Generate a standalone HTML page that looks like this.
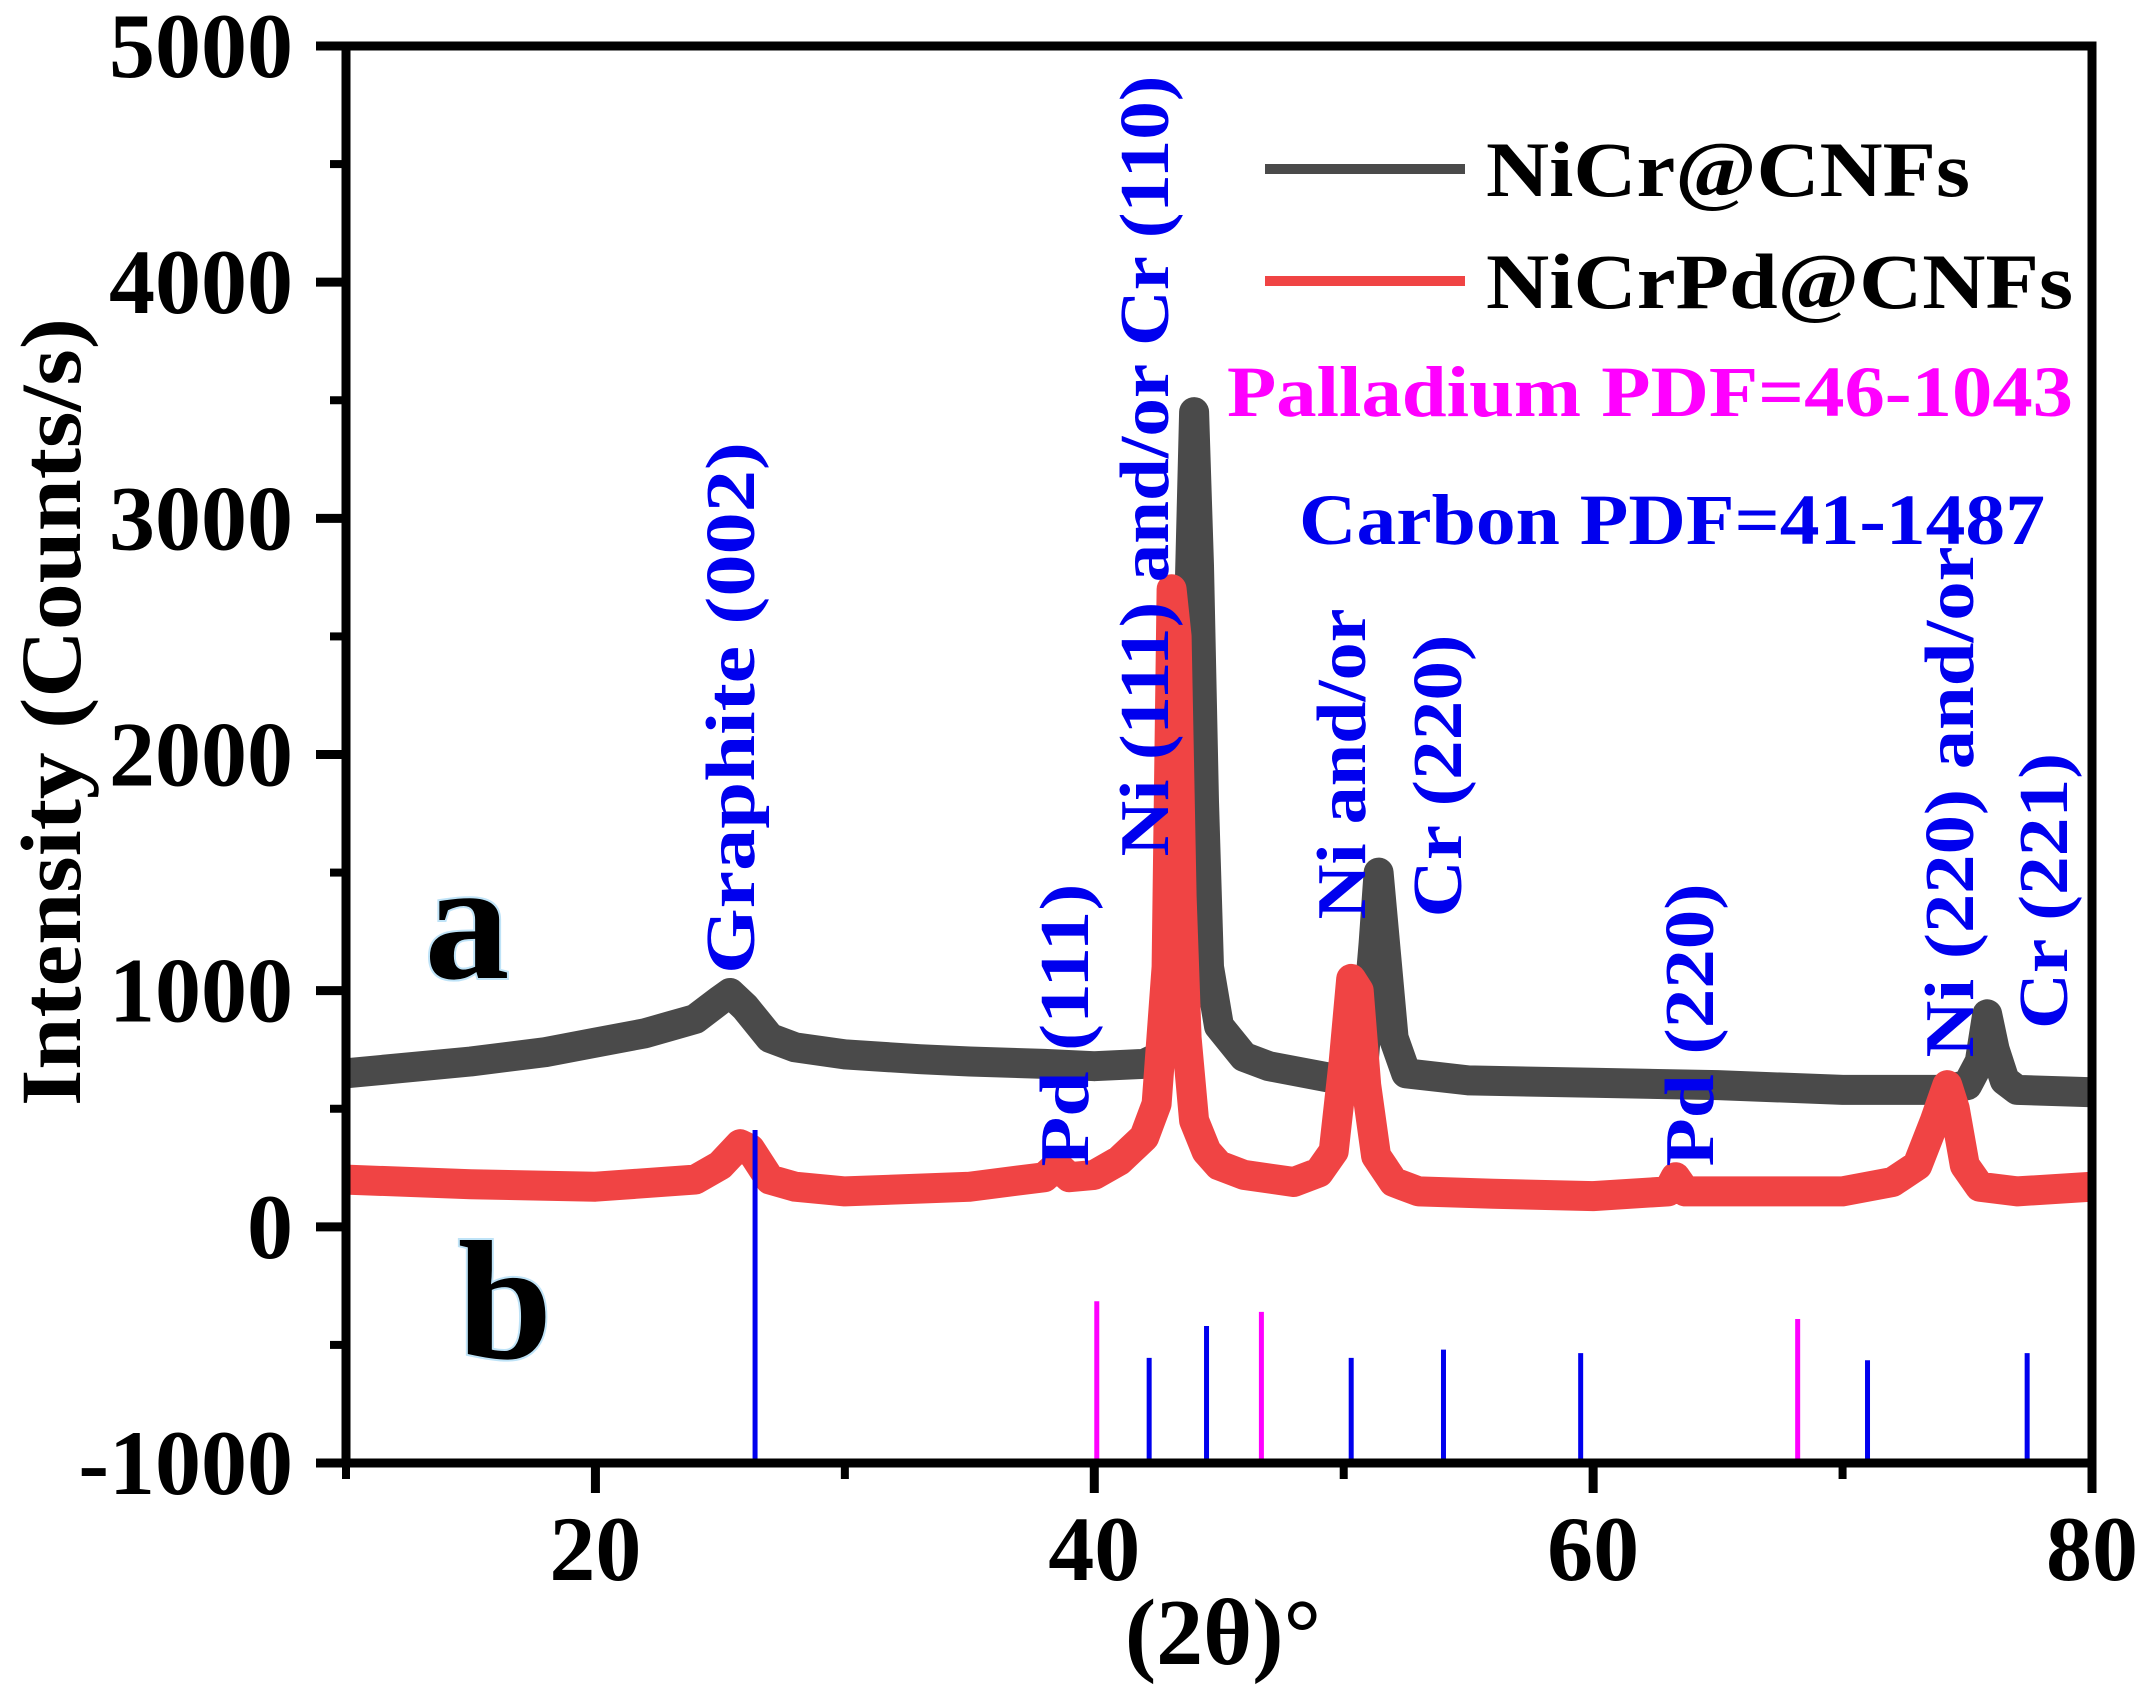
<!DOCTYPE html>
<html><head><meta charset="utf-8"><style>
html,body{margin:0;padding:0;background:#fff;}
svg{display:block;font-family:"Liberation Serif",serif;font-weight:bold;}
</style></head><body>
<svg id="chart" width="2155" height="1689" viewBox="0 0 2155 1689">
<g id="plot"></g>
</svg>
<script>
const xTicks=[20,40,60,80];
const xMinor=[10,30,50,70];
const yTicks=[-1000,0,1000,2000,3000,4000,5000];
const yMinor=[-500,500,1500,2500,3500,4500];
const nicrX=[10,12,15,18,20,22,23,24,25,25.4,26,27,28,30,33,35,38,40,42,43,43.5,43.8,44.0,44.2,44.4,44.6,45,46,47,50,50.8,51.2,51.4,51.7,52,52.5,55,60,65,70,74,75,75.5,75.8,76.1,76.5,77,80];
const nicrY=[650,670,700,740,780,820,850,880,960,990,930,800,760,730,710,700,690,680,690,740,1200,2600,3450,2800,1800,1100,850,720,680,620,700,1200,1500,1150,800,650,620,610,600,580,580,600,700,900,750,620,580,570];
const pdX=[10,15,20,24,25,25.8,26.2,27,28,30,35,38,38.5,39,40,41,42,42.5,42.9,43.1,43.3,43.5,43.7,44,44.5,45,46,48,49,49.6,50,50.3,50.6,50.9,51.3,52,53,56,60,63,63.3,63.7,66,70,72,73,73.7,74.2,74.5,74.9,75.5,77,80];
const pdY=[200,180,170,200,260,350,330,200,170,150,170,210,260,210,220,280,380,520,1100,2700,2500,1400,800,450,320,260,220,190,230,320,700,1050,1000,600,300,190,150,140,130,150,210,150,150,150,190,260,450,600,500,260,170,150,170];
const carbonPos=[26.4,42.2,44.5,50.3,54.0,59.5,71.0,77.4];
const carbonTop=[410,-555,-420,-555,-520,-535,-565,-535];
const pdPos=[40.1,46.7,68.2];
const pdTop=[-315,-360,-390];

const L=346,R=2092,T=46,B=1463,X0=10,X1=80,Y0=-1000,Y1=5000;
const sx=v=>L+(v-X0)/(X1-X0)*(R-L);
const sy=v=>B-(v-Y0)/(Y1-Y0)*(B-T);
const NS="http://www.w3.org/2000/svg";
const g=document.getElementById('plot');
function mk(tag,attrs,parent){const e=document.createElementNS(NS,tag);for(const k in attrs)e.setAttribute(k,attrs[k]);(parent||g).appendChild(e);return e;}

function curve(xs,ys,color,name){
  const d=xs.map((x,i)=>(i?'L':'M')+sx(x).toFixed(1)+','+sy(ys[i]).toFixed(1)).join('');
  const p=mk('path',{d:d,fill:'none',stroke:color,'stroke-width':30,'stroke-linejoin':'round'});
  
  
}
curve(nicrX,nicrY,'#4a4a4a','nicr-cnfs-curve');
curve(pdX,pdY,'#f04444','nicrpd-cnfs-curve');

carbonPos.forEach((x,i)=>{
  const l=mk('line',{x1:sx(x),x2:sx(x),y1:sy(Y0),y2:sy(carbonTop[i]),stroke:'#0000ee','stroke-width':5});
  
  
});
pdPos.forEach((x,i)=>{
  const l=mk('line',{x1:sx(x),x2:sx(x),y1:sy(Y0),y2:sy(pdTop[i]),stroke:'#ff00ff','stroke-width':5});
  
  
});

const fr=mk('rect',{x:L,y:T,width:R-L,height:B-T,fill:'none',stroke:'#000','stroke-width':9});



yTicks.forEach(v=>{
  mk('line',{x1:L-30,x2:L,y1:sy(v),y2:sy(v),stroke:'#000','stroke-width':9});
  const t=mk('text',{x:293,y:sy(v)+31,'text-anchor':'end','font-size':92});
  t.textContent=v;
  
  
});
yMinor.forEach(v=>mk('line',{x1:L-16,x2:L,y1:sy(v),y2:sy(v),stroke:'#000','stroke-width':8}));
xTicks.forEach(v=>{
  mk('line',{x1:sx(v),x2:sx(v),y1:B,y2:B+30,stroke:'#000','stroke-width':9});
  const t=mk('text',{x:sx(v),y:1580,'text-anchor':'middle','font-size':92});
  t.textContent=v;
  
  
});
xMinor.forEach(v=>mk('line',{x1:sx(v),x2:sx(v),y1:B,y2:B+16,stroke:'#000','stroke-width':8}));
</script>
<svg style="position:absolute;left:0;top:0" width="2155" height="1689">
<g font-family="Liberation Serif, serif" font-weight="bold">
<text x="1223" y="1664" text-anchor="middle" font-size="94">(2θ)°</text>
<text transform="translate(80,712) rotate(-90)" text-anchor="middle" font-size="86" textLength="788" lengthAdjust="spacingAndGlyphs">Intensity (Counts/s)</text>

<line x1="1265" x2="1465" y1="169" y2="169" stroke="#4a4a4a" stroke-width="10"/>
<text x="1486" y="196" font-size="78" textLength="484" lengthAdjust="spacingAndGlyphs">NiCr@CNFs</text>
<line x1="1265" x2="1465" y1="281" y2="281" stroke="#f04444" stroke-width="10"/>
<text x="1486" y="308" font-size="78" textLength="587" lengthAdjust="spacingAndGlyphs">NiCrPd@CNFs</text>
<text x="1227" y="416" font-size="72" fill="#ff00ff" textLength="846" lengthAdjust="spacingAndGlyphs">Palladium PDF=46-1043</text>
<text x="1299" y="544" font-size="72" fill="#0000ee" textLength="746" lengthAdjust="spacingAndGlyphs">Carbon PDF=41-1487</text>

<g fill="#0000ee" font-size="70">
<text transform="translate(754,708) rotate(-90)" text-anchor="middle" textLength="532" lengthAdjust="spacingAndGlyphs">Graphite (002)</text>
<text transform="translate(1088,1025) rotate(-90)" text-anchor="middle" textLength="283" lengthAdjust="spacingAndGlyphs">Pd (111)</text>
<text transform="translate(1168,466) rotate(-90)" text-anchor="middle" textLength="781" lengthAdjust="spacingAndGlyphs">Ni (111) and/or Cr (110)</text>
<text transform="translate(1365,764) rotate(-90)" text-anchor="middle" textLength="311" lengthAdjust="spacingAndGlyphs">Ni and/or</text>
<text transform="translate(1461,776) rotate(-90)" text-anchor="middle" textLength="283" lengthAdjust="spacingAndGlyphs">Cr (220)</text>
<text transform="translate(1713,1025) rotate(-90)" text-anchor="middle" textLength="283" lengthAdjust="spacingAndGlyphs">Pd (220)</text>
<text transform="translate(1973,802) rotate(-90)" text-anchor="middle" textLength="511" lengthAdjust="spacingAndGlyphs">Ni (220) and/or</text>
<text transform="translate(2067,891) rotate(-90)" text-anchor="middle" textLength="276" lengthAdjust="spacingAndGlyphs">Cr (221)</text>
</g>
<text x="467" y="978" text-anchor="middle" font-size="170" fill="#000" stroke="#bfe3f7" stroke-width="4" paint-order="stroke">a</text>
<text x="505" y="1358" text-anchor="middle" font-size="170" fill="#000" stroke="#bfe3f7" stroke-width="4" paint-order="stroke">b</text>
</g>
</svg>
</body></html>
